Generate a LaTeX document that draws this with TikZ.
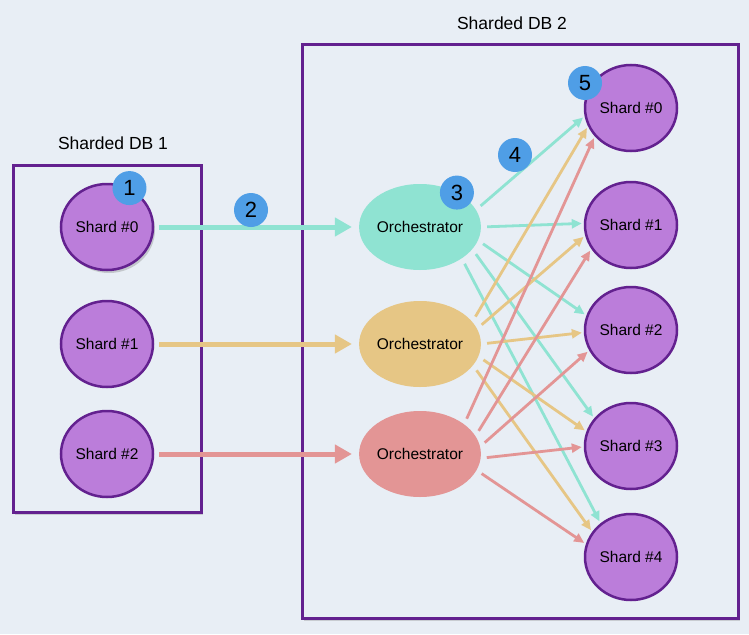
\documentclass[tikz,border=0pt]{standalone}
\usepackage{fontspec}
\setmainfont{Liberation Sans}
\usepackage{tikz}
\usetikzlibrary{shapes.geometric, positioning, arrows.meta, shadows}

\definecolor{bgblue}{HTML}{E8EEF5}
\definecolor{dbpurple}{HTML}{63218F}
\definecolor{shardfill}{HTML}{BB7DDA}
\definecolor{tealc}{HTML}{8FE3D2}
\definecolor{orangec}{HTML}{E6C685}
\definecolor{pinkc}{HTML}{E39595}
\definecolor{badgeblue}{HTML}{4F9EE6}

\begin{document}
\begin{tikzpicture}
	[x=1pt, y=-1pt, on grid,
	 shard/.style={ellipse, draw=dbpurple, line width=2.5pt, fill=shardfill,
	   minimum width=92pt, minimum height=86pt, inner sep=0pt,
	   font=\fontsize{15.5}{17}\selectfont},
	 orch/.style={ellipse, minimum width=120pt, minimum height=86pt, inner sep=0pt,
	   font=\fontsize{15.5}{17}\selectfont},
	 badge/.style={circle, fill=badgeblue, minimum size=34pt, inner sep=0pt,
	   font=\fontsize{22}{24}\selectfont},
	 title/.style={font=\fontsize{17.5}{19}\selectfont},
	 db/.style={draw=dbpurple, line width=3pt, fill=bgblue,
	   drop shadow={opacity=0.3, shadow xshift=2pt, shadow yshift=-3pt}},
	 feed/.style={line width=5pt, -{Triangle[length=17pt, width=18pt]},
	   shorten <=5pt, shorten >=7pt},
	 fan/.style={line width=2.8pt, -{Triangle[length=10pt, width=9pt]},
	   shorten <=6pt, shorten >=2pt}]
   \path[use as bounding box, fill=bgblue] (0,0) rectangle (749,634);

   % the two databases
   \draw[db] (13,165) rectangle (201,512);
   \draw[db] (302,45) rectangle (738,618);
   \node[title] (t1) at (113,143) {Sharded DB 1};
   \node[title] (t2) at (512,23) {Sharded DB 2};

   \node[shard, drop shadow={opacity=0.35, shadow xshift=2pt, shadow yshift=-3pt}]
        (a0) at (107,227) {Shard \#0};
   \node[shard] (a1) at (107,344) {Shard \#1};
   \node[shard] (a2) at (107,454) {Shard \#2};

   \node[orch, fill=tealc] (o0) [right=313pt of a0] {Orchestrator};
   \node[orch, fill=orangec] (o1) [right=313pt of a1] {Orchestrator};
   \node[orch, fill=pinkc] (o2) [right=313pt of a2] {Orchestrator};

   \node[shard] (b0) at (631,108) {Shard \#0};
   \node[shard] (b1) at (631,225) {Shard \#1};
   \node[shard] (b2) at (631,330) {Shard \#2};
   \node[shard] (b3) at (631,446) {Shard \#3};
   \node[shard] (b4) at (631,557) {Shard \#4};

    \path[feed]
    (a0) edge [tealc] (o0)
    (a1) edge [orangec] (o1)
    (a2) edge [pinkc] (o2);

    \path[fan, tealc]
    (o0.17)  edge (b0.190)
    (o0.0)   edge (b1.178)
    (o0.-13) edge (b2.162)
    (o0.-23) edge (b3.143)
    (o0.-37) edge (b4.132);
    \path[fan, orangec]
    (o1.23)  edge (b0.203)
    (o1.15)  edge (b1.193)
    (o1.0)   edge (b2.183)
    (o1.-12) edge (b3.162)
    (o1.-22) edge (b4.147);
    \path[fan, pinkc]
    (o2.34)  edge (b0.218)
    (o2.18)  edge (b1.211)
    (o2.7)   edge (b2.206)
    (o2.-4)  edge (b3.181)
    (o2.-16) edge (b4.164);

   % step numbers
   \node[badge] (n1) at (a0.60) {1};
   \node[badge] (n2) at (251,210) {2};
   \node[badge] (n3) at (o0.43) {3};
   \node[badge] (n4) at (515,155) {4};
   \node[badge] (n5) at (585,83) {5};
\end{tikzpicture}
\end{document}
